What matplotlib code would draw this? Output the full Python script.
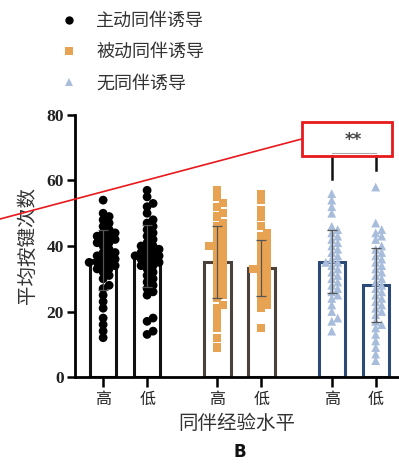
import matplotlib
matplotlib.use("Agg")
import matplotlib.pyplot as plt
import numpy as np
from matplotlib.lines import Line2D
from matplotlib.patches import Rectangle

plt.rcParams["font.family"] = ["Noto Sans CJK SC", "DejaVu Sans"]

legend_labels = ["主动同伴诱导", "被动同伴诱导", "无同伴诱导"]
tick_labels = ["高", "低", "高", "低", "高", "低"]
bar_means = [35.7, 37.0, 35.2, 33.2, 35.2, 28.1]
bar_sds = [9.2, 9.5, 11.0, 8.5, 9.6, 11.2]

g1_high = [54, 50, 49, 48, 47, 46, 45, 44, 44, 43, 43, 42, 42, 41, 41, 40, 39, 38, 38, 37, 37,
           36, 36, 35, 35, 35, 34, 34, 33, 33, 32, 31, 30, 28, 27, 25, 23, 21, 18, 16, 14, 12]
g1_low = [57, 55, 53, 52, 50, 48, 47, 46, 45, 44, 43, 42, 41, 40, 40, 39, 39, 38, 38, 37, 37,
          37, 36, 36, 35, 35, 34, 34, 33, 32, 31, 30, 29, 28, 27, 26, 25, 18, 17, 14, 13]
g2_high = [57, 55, 53, 52, 50, 49, 47, 46, 45, 44, 43, 42, 41, 40, 40, 39, 38, 37, 36, 35, 34,
           33, 32, 31, 30, 29, 28, 27, 26, 25, 24, 22, 21, 19, 17, 15, 12, 9]
g2_low = [56, 54, 51, 49, 46, 44, 43, 42, 41, 40, 39, 38, 37, 36, 35, 34, 33, 33, 32, 31, 30,
          29, 28, 27, 26, 25, 24, 23, 22, 21, 15]
g3_high = [56, 54, 52, 50, 46, 45, 44, 43, 42, 41, 40, 39, 38, 37, 36, 35, 35, 34, 33, 32, 31,
           30, 29, 28, 27, 26, 25, 24, 22, 20, 18, 17, 14]
g3_low = [58, 47, 45, 44, 43, 42, 40, 39, 38, 37, 36, 35, 34, 33, 32, 31, 30, 29, 28, 27, 26,
          25, 24, 23, 22, 21, 20, 19, 17, 16, 15, 13, 11, 9, 7, 5]
points = [g1_high, g1_low, g2_high, g2_low, g3_high, g3_low]

positions = [0, 1, 2.6, 3.6, 5.2, 6.2]
edge_colors = ["#111111", "#111111", "#4a423a", "#4a423a", "#2c4a78", "#2c4a78"]
point_colors = ["#000000", "#000000", "#e8a352", "#e8a352", "#a8bcdb", "#a8bcdb"]
markers = ["o", "o", "s", "s", "^", "^"]


def swarm_offsets(values, x_scale, y_scale, diam, step=2.0):
    # simple beeswarm in pixel space, points allowed to overlap a bit
    order = np.argsort(values)
    placed = []
    offs = np.zeros(len(values))
    for i in order:
        y = values[i] * y_scale
        cand = 0.0
        for k in range(0, 60):
            cand = ((k + 1) // 2) * (1 if k % 2 else -1) * step
            if all((cand - px) ** 2 + (y - py) ** 2 >= diam ** 2 for px, py in placed):
                break
        placed.append((cand, y))
        offs[i] = cand / x_scale
    return offs


fig = plt.figure(figsize=(3.99, 4.66), dpi=100)
ax = fig.add_axes([75 / 399, 1 - 377 / 466, 1 - 75 / 399, (377 - 115) / 466])
ax.set_xlim(-0.64, 6.73)
ax.set_ylim(0, 80)

for pos, m, ec in zip(positions, bar_means, edge_colors):
    ax.bar(pos, m, width=0.6, facecolor="white", edgecolor=ec, linewidth=2.2, zorder=2)

for pos, vals, col, mk in zip(positions, points, point_colors, markers):
    vals = np.array(vals, dtype=float)
    offs = swarm_offsets(vals, 44.0, 3.275, 6.5)
    ax.scatter(pos + offs, vals, s=40 if mk != "s" else 34, marker=mk, color=col,
               edgecolors="none", zorder=3)

for pos, m, s in zip(positions, bar_means, bar_sds):
    ax.errorbar(pos, m, yerr=s, fmt="none", ecolor="#555555", elinewidth=0.9,
                capsize=3.5, capthick=0.9, zorder=4)

# significance bracket
ax.plot([5.2, 5.2], [60.4, 67.4], color="#111111", lw=1.8, zorder=4, clip_on=False)
ax.plot([6.2, 6.2], [63.2, 67.4], color="#111111", lw=1.8, zorder=4, clip_on=False)
ax.plot([5.2, 6.2], [68.4, 68.4], color="#aaaaaa", lw=0.8, zorder=4, clip_on=False)
ax.text(5.7, 72.5, "**", ha="center", va="center", fontsize=12, fontweight="bold",
        color="#444444", family="DejaVu Sans")

ax.set_xticks(positions)
ax.set_xticklabels(tick_labels, fontsize=11.5, color="#222222")
ax.set_yticks([0, 20, 40, 60, 80])
ax.set_yticklabels(["0", "20", "40", "60", "80"], family="Liberation Serif",
                   fontweight="bold", fontsize=12.5, color="#222222")
ax.tick_params(axis="x", length=7, width=1.8, pad=3)
ax.tick_params(axis="y", length=6, width=1.8, pad=2)
for side in ["top", "right"]:
    ax.spines[side].set_visible(False)
for side in ["left", "bottom"]:
    ax.spines[side].set_linewidth(2.0)
ax.set_ylabel("平均按键次数", fontsize=14, color="#333333", labelpad=6)
ax.set_xlabel("同伴经验水平", fontsize=14, color="#333333", labelpad=4)

fig.text(240 / 399, 1 - 452 / 466, "B", ha="center", va="center", fontsize=12,
         fontweight="bold", family="DejaVu Sans", color="#111111")

handles = [Line2D([], [], marker=mk, ls="none", color=c, markersize=ms, markeredgewidth=0)
           for mk, c, ms in zip(["o", "s", "^"], ["#000000", "#e8a352", "#a8bcdb"], [6, 5.5, 6])]
fig.legend(handles, legend_labels, loc="upper left", bbox_to_anchor=(44 / 399, 1 + 4 / 466),
           frameon=False, fontsize=13, handlelength=1.0, handletextpad=1.0,
           labelspacing=0.72, labelcolor="#333333")

# red annotation
fig.add_artist(Line2D([0, 301.7 / 399], [1 - 219 / 466, 1 - 139 / 466],
                      transform=fig.transFigure, color="#e8191c", lw=1.2))
fig.add_artist(Rectangle((301.7 / 399, 1 - 156 / 466), (392 - 301.7) / 399, (156 - 121.7) / 466,
                         transform=fig.transFigure, fill=False, edgecolor="#e8191c", lw=2.0))

fig.savefig("out.png", dpi=100)
